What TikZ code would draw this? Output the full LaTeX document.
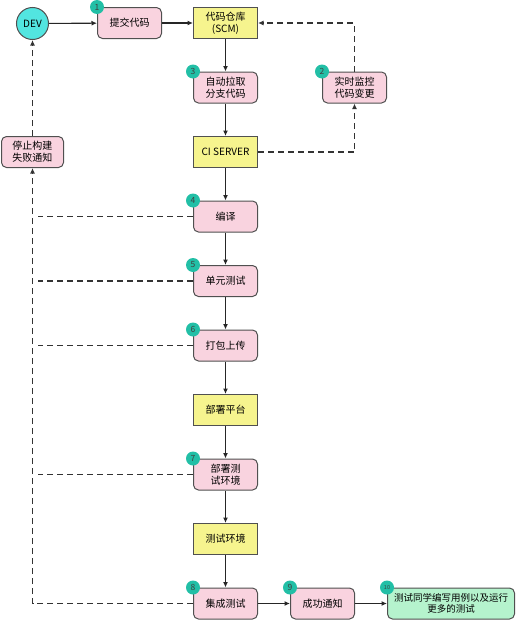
\documentclass[tikz,border=0pt]{standalone}
\usepackage{fontspec}
\setmainfont{Noto Sans CJK SC}
\usetikzlibrary{positioning, arrows.meta}
\definecolor{pinkfill}{HTML}{F9D3DF}
\definecolor{yellowfill}{HTML}{F6F48E}
\definecolor{tealbadge}{HTML}{22BFA6}
\definecolor{devcyan}{HTML}{52E5E0}
\definecolor{greenfill}{HTML}{B5F3CD}
\definecolor{edge}{HTML}{505050}

\begin{document}
\begin{tikzpicture}[
    x=1pt, y=-1pt,
    font=\fontsize{10}{12}\selectfont,
    node distance=32.5pt and 32pt,
    >={Latex[length=5.5pt,width=5pt]},
    stepbox/.style ={rectangle, rounded corners=5pt, draw=edge, line width=1pt, fill=pinkfill,
                     minimum width=64pt, minimum height=31pt, align=center, inner sep=1pt},
    envbox/.style  ={rectangle, draw=edge, line width=1pt, fill=yellowfill,
                     minimum width=64pt, minimum height=31pt, align=center, inner sep=1pt},
    donebox/.style ={stepbox, fill=greenfill, minimum width=127pt},
    devnode/.style ={circle, draw=edge, line width=1pt, fill=devcyan, minimum size=32pt, inner sep=0pt},
    badge/.style   ={circle, fill=tealbadge, minimum size=14pt, inner sep=0pt,
                     font=\fontsize{8.5}{8.5}\selectfont, text=black!75},
    flow/.style    ={->, line width=1.1pt, draw=black!85},
    fail/.style    ={line width=1.1pt, dash pattern=on 6pt off 4pt, draw=black!80},
]
\useasboundingbox (0,0) rectangle (522,621);

% ---- Top row ----
\node[devnode] (dev) at (32.5,23.5) {DEV};
\node[stepbox] (commit) at (129.5,23) {提交代码};
\node[envbox, right=31pt of commit] (scm) {代码仓库\\(SCM)};

% ---- Main column ----
\node[stepbox, below=of scm]      (pull)     {自动拉取\\分支代码};
\node[envbox,  below=of pull]     (ci)       {CI SERVER};
\node[stepbox, below=of ci]       (compile)  {编译};
\node[stepbox, below=of compile]  (unit)     {单元测试};
\node[stepbox, below=of unit]     (pack)     {打包上传};
\node[envbox,  below=of pack]     (deploy)   {部署平台};
\node[stepbox, below=of deploy]   (deployenv) {部署测\\试环境};
\node[envbox,  below=of deployenv] (testenv) {测试环境};
\node[stepbox, below=of testenv]  (integ)    {集成测试};

% ---- Side nodes ----
\node[stepbox, right=64pt of pull] (monitor) {实时监控\\代码变更};
\node[stepbox, minimum width=62pt] (stop) at (dev |- ci) {停止构建\\失败通知};
\node[stepbox, right=of integ]   (success) {成功通知};
\node[donebox, right=of success, font=\fontsize{9.5}{11}\selectfont] (done) {测试同学编写用例以及运行\\更多的测试};

% ---- Badges ----
\node[badge] (b1) at (commit.north west)    {1};
\node[badge] (b2) at (monitor.north west)   {2};
\node[badge] (b3) at (pull.north west)      {3};
\node[badge] (b4) at (compile.north west)   {4};
\node[badge] (b5) at (unit.north west)      {5};
\node[badge] (b6) at (pack.north west)      {6};
\node[badge] (b7) at (deployenv.north west) {7};
\node[badge] (b8) at (integ.north west)     {8};
\node[badge] (b9) at (success.north west)   {9};
\node[badge, font=\fontsize{5.5}{6}\selectfont] (b10) at (done.north west) {10};

% ---- Arrows: main flow ----
\draw[flow] (dev) -- (commit);
\draw[flow] (commit) -- (scm);
\foreach \a/\b in {scm/pull, pull/ci, ci/compile, compile/unit, unit/pack,
                   pack/deploy, deploy/deployenv, deployenv/testenv, testenv/integ} {
   \draw[flow] (\a) -- (\b);
}
\draw[flow] (integ) -- (success);
\draw[flow] (success) -- (done);

% ---- Arrows: monitoring ----
\draw[fail, ->] (ci.east) -| (monitor.south);
\draw[fail, ->] (monitor.north) |- (scm.east);

% ---- Arrows: failures ----
\foreach \n in {compile, unit, pack, deployenv} {
   \draw[fail] (\n.west) -- ([xshift=5pt]\n.west -| stop.south);
}
\draw[fail, ->] (integ.west) -| (stop.south);
\draw[fail, ->] (stop.north) -- (dev.south);

\end{tikzpicture}
\end{document}
